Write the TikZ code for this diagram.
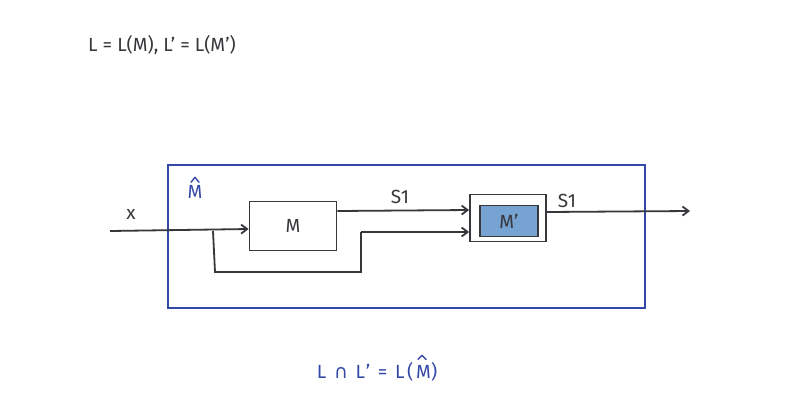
\documentclass[tikz,border=0pt]{standalone}
\usepackage{fontspec}
\setmainfont{Fira Sans}
\newfontfamily\symfont{DejaVu Sans}
\newfontfamily\widefont{Fira Sans}[LetterSpace=14,Ligatures=TeX]
\newfontfamily\widesym{DejaVu Sans}[LetterSpace=14]
\usetikzlibrary{arrows.meta}
\definecolor{penblue}{RGB}{52,72,168}
\definecolor{penblack}{RGB}{55,55,60}
\definecolor{boxfill}{RGB}{118,163,210}
\begin{document}
\begin{tikzpicture}[x=1pt,y=-1pt,
  wire/.style={draw=penblack,line width=1.8pt},
  arr/.style={wire,-{Straight Barb[length=6pt,width=9pt]}},
  blk/.style={draw=penblack,line width=1.8pt,inner sep=0pt},
  lbl/.style={text=penblack,font=\fontsize{19}{21}\selectfont},
  bluelbl/.style={text=penblue,font=\fontsize{19}{21}\selectfont},
  hat/.style={draw=penblue,line width=1.4pt,line cap=round,line join=round}]
\useasboundingbox[fill=white] (0,0) rectangle (805,416);
% title
\node[lbl] (title) at (162,45) {L = L(M),\ L' = L(M')};
% outer box
\node[draw=penblue,line width=2pt,minimum width=477pt,minimum height=143pt] (outer) at (406.5,236) {};
\node[bluelbl,inner sep=0pt] (mhat) at (195,192) {M};
\draw[hat] ([xshift=-4pt,yshift=3pt]mhat.north) -- ([yshift=8pt]mhat.north) -- ([xshift=4pt,yshift=3pt]mhat.north);
% M block
\node[blk,minimum width=87pt,minimum height=49pt] (M) at (293,226) {};
\node[lbl] (Mlbl) at (M.center) {M};
% M' block
\node[blk,minimum width=76pt,minimum height=47pt] (Mp) at (508,218) {};
\node[draw=penblack,line width=1.6pt,fill=boxfill,minimum width=58pt,minimum height=31pt] (Mpin) at (509,221) {};
\node[lbl] (Mplbl) at (Mpin.center) {M'};
% coordinates
\coordinate (xin) at (110,231);
\coordinate (split) at (213,231);
\coordinate (fb1) at (215,272);
\coordinate (fb2) at (361,272);
\coordinate (fb3) at (361,232);
\coordinate (out) at (690,211);
% wires
\draw[arr] (xin) -- (M.west |- 0,229);
\draw[wire] (split) -- (fb1) -- (fb2) -- (fb3);
\draw[arr] (fb3) -- (Mp.west |- 0,232);
\draw[arr] (M.east |- 0,211) -- (Mp.west |- 0,210);
\draw[arr] (Mp.east |- 0,212) -- (out);
% labels
\node[lbl] (xl) at (131,214) {x};
\node[lbl] (s1a) at (400,197) {S1};
\node[lbl] (s1b) at (567,201) {S1};
% bottom
\node[bluelbl,inner sep=0pt,anchor=east] (eq) at (431,372) {\widefont L {\widesym ∩} L' = L(M};
\node[bluelbl,inner sep=0pt,anchor=west] (eqend) at (eq.east) {\widefont )};
\draw[hat] ([xshift=-13pt,yshift=3pt]eq.north east) -- ([xshift=-9pt,yshift=7pt]eq.north east) -- ([xshift=-5pt,yshift=3pt]eq.north east);
\end{tikzpicture}
\end{document}
